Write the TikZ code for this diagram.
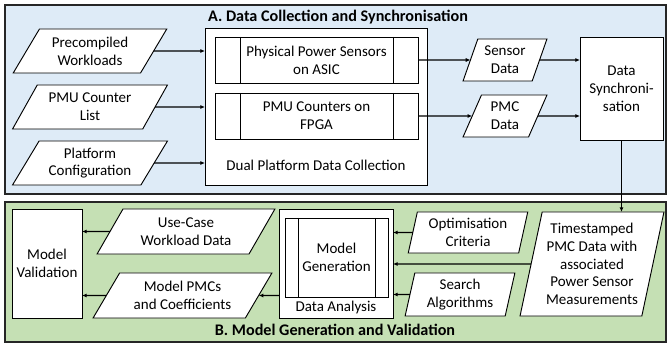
\documentclass[tikz,border=0pt]{standalone}
\usepackage{fontspec}
\setmainfont{Carlito}
\usetikzlibrary{shapes.geometric,arrows.meta}
\definecolor{panelblue}{HTML}{DEEBF7}
\definecolor{panelgreen}{HTML}{C5E0B4}
\definecolor{panelline}{HTML}{262626}
\begin{document}
\begin{tikzpicture}[x=0.03cm,y=-0.03cm,inner sep=0pt,outer sep=0pt,line width=0.8pt,
font=\fontsize{12.8}{15.2}\selectfont,
panel/.style={draw=panelline,line width=1.7pt},
headline/.style={font=\fontsize{13.8}{16}\selectfont\bfseries},
sysblock/.style={draw,fill=white,rectangle,align=center},
procblock/.style={sysblock,minimum width=6.09cm,minimum height=1.38cm},
iobox/.style={draw,fill=white,trapezium,trapezium stretches=true,trapezium left angle=#1,trapezium right angle=\the\numexpr180-#1\relax,align=center},
inbox/.style={iobox=55,minimum width=4.65cm,minimum height=1.32cm},
flow/.style={-{Latex[length=4pt,width=3.5pt]},line width=1pt}]
\useasboundingbox (0,0) rectangle (669,345);
\draw[panel,fill=panelblue] (5,5) rectangle (666,194);
\draw[panel,fill=panelgreen] (5,202) rectangle (666,342);

\draw (338,17) node[headline] (ttla) {A. Data Collection and Synchronisation};
\draw (316,106.5) node[sysblock,minimum width=6.66cm,minimum height=4.71cm] (dpdc) {};
\draw (316,165) node (dpdcl) {Dual Platform Data Collection};
\draw (316.5,60) node[procblock] (asic) {Physical Power Sensors\\on ASIC};
\draw (316.5,116) node[procblock] (fpga) {PMU Counters on\\FPGA};
\foreach \b in {asic,fpga} {
  \draw ([xshift=0.75cm]\b.north west) -- ([xshift=0.75cm]\b.south west);
  \draw ([xshift=-0.75cm]\b.north east) -- ([xshift=-0.75cm]\b.south east);
}

\draw (90,51) node[inbox] (wl) {Precompiled\\Workloads};
\draw (90,107) node[inbox] (pmul) {PMU Counter\\List};
\draw (90,163) node[inbox] (cfg) {Platform\\Configuration};
\draw[flow] (wl) -- (wl -| dpdc.west);
\draw[flow] (pmul) -- (pmul -| dpdc.west);
\draw[flow] (cfg) -- (cfg -| dpdc.west);

\draw (505,60) node[iobox=68,minimum width=2.52cm,minimum height=1.26cm] (sdat) {Sensor\\Data};
\draw (505,116) node[iobox=68,minimum width=2.52cm,minimum height=1.26cm] (pmcd) {PMC\\Data};
\draw[flow] (asic) -- (sdat);
\draw[flow] (fpga) -- (pmcd);
\draw (621.5,88.5) node[sysblock,minimum width=2.49cm,minimum height=3.09cm] (sync) {Data\\Synchroni-\\sation};
\draw[flow] (sdat) -- (sdat -| sync.west);
\draw[flow] (pmcd) -- (pmcd -| sync.west);

\draw (335,330) node[headline] (ttlb) {B. Model Generation and Validation};
\draw (47,263.5) node[sysblock,minimum width=2.1cm,minimum height=3.27cm] (valid) {Model\\Validation};
\draw (186,231.5) node[iobox=56,minimum width=5.34cm,minimum height=1.35cm] (ucw) {Use-Case\\Workload Data};
\draw (182.5,295.5) node[iobox=54,minimum width=5.37cm,minimum height=1.35cm] (coef) {Model PMCs\\and Coefficients};
\draw (336,263.5) node[sysblock,minimum width=3.42cm,minimum height=3.27cm] (dana) {};
\draw (336.5,257.5) node[sysblock,minimum width=3.09cm,minimum height=2.37cm] (mgen) {Model\\Generation};
\draw ([xshift=0.39cm]mgen.north west) -- ([xshift=0.39cm]mgen.south west);
\draw ([xshift=-0.39cm]mgen.north east) -- ([xshift=-0.39cm]mgen.south east);
\draw (336,308) node (danal) {Data Analysis};
\draw (468,232.5) node[iobox=76,minimum width=3.6cm,minimum height=1.23cm] (opt) {Optimisation\\Criteria};
\draw (460,294.5) node[iobox=77,minimum width=3.3cm,minimum height=1.29cm] (srch) {Search\\Algorithms};
\draw (592,264) node[iobox=76,minimum width=4.32cm,minimum height=3.12cm] (ts) {Timestamped\\PMC Data with\\associated\\Power Sensor\\Measurements};

\draw[flow] (sync.south) -- (sync.south |- ts.north);
\draw[flow] (opt) -- (opt -| dana.east);
\draw[flow] (ts) -- (ts -| dana.east);
\draw[flow] (srch) -- (srch -| dana.east);
\draw[flow] (dana.west |- coef) -- (coef);
\draw[flow] (ucw) -- (ucw -| valid.east);
\draw[flow] (coef) -- (coef -| valid.east);
\end{tikzpicture}
\end{document}
